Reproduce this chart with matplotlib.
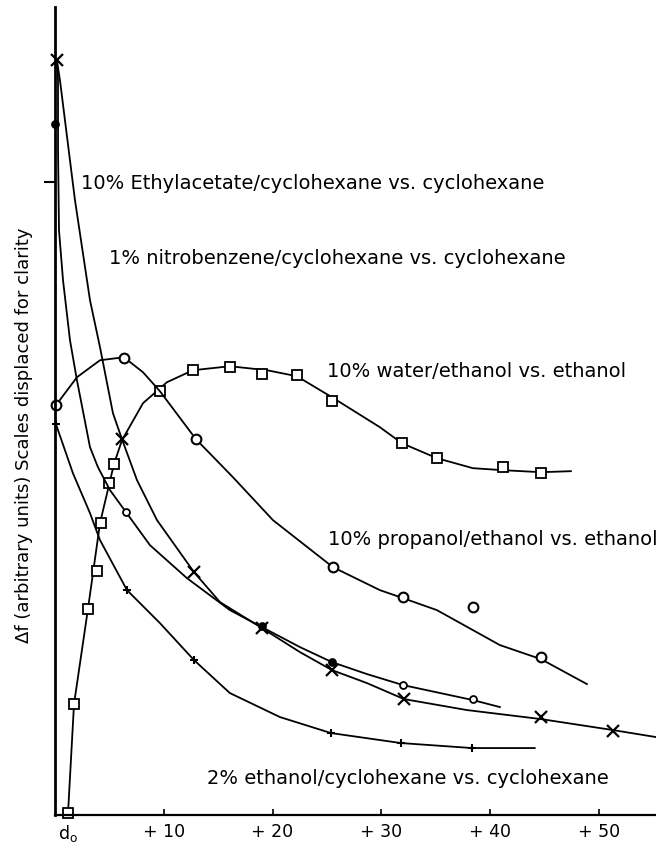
import numpy as np
import matplotlib.pyplot as plt

# distance from d_o (x) and displaced signal (y)
# 10% water/ethanol vs. ethanol (squares)
water_x = [1.19, 1.75, 3.03, 3.86, 4.23, 4.96, 5.42, 9.65, 12.68, 16.08, 19.03, 22.24, 25.46, 31.89, 35.11, 41.18, 44.67]
water_y = [0.2, 11.1, 20.6, 24.4, 29.2, 33.2, 35.1, 42.4, 44.5, 44.8, 44.1, 44.0, 41.4, 37.2, 35.7, 34.8, 34.2]
water_cx = [1.19, 1.75, 3.03, 4.14, 5.42, 6.16, 8.09, 10.29, 12.68, 16.08, 19.49, 22.24, 25.46, 29.87, 31.89, 35.11, 38.42, 41.18, 44.67, 47.43]
water_cy = [0.0, 11.1, 20.6, 29.2, 35.1, 37.5, 41.2, 43.3, 44.5, 44.9, 44.5, 43.9, 41.8, 38.8, 37.2, 35.7, 34.7, 34.5, 34.3, 34.4]

# 10% propanol/ethanol vs. ethanol (open circles)
prop_x = [0.09, 6.34, 12.96, 25.55, 31.99, 38.42, 44.67]
prop_y = [41.0, 45.7, 37.6, 24.8, 21.8, 20.8, 15.8]
prop_cx = [0.09, 2.02, 4.14, 6.34, 8.09, 9.65, 12.96, 16.36, 20.04, 25.55, 29.87, 31.99, 35.11, 38.42, 40.9, 44.67, 48.9]
prop_cy = [41.0, 43.8, 45.5, 45.8, 44.3, 42.4, 37.6, 33.8, 29.5, 24.8, 22.5, 21.7, 20.5, 18.5, 17.0, 15.6, 13.1]

# 10% Ethylacetate/cyclohexane vs. cyclohexane (crosses)
ethyl_x = [0.18, 6.16, 12.78, 19.03, 25.46, 32.08, 44.67, 51.29]
ethyl_y = [75.5, 37.6, 24.3, 18.7, 14.5, 11.6, 9.8, 8.4]
ethyl_cx = [0.18, 0.46, 1.84, 3.22, 4.14, 5.33, 6.16, 7.54, 9.38, 12.78, 15.17, 19.03, 22.52, 25.46, 28.68, 32.08, 37.87, 44.67, 51.29, 55.24]
ethyl_cy = [75.5, 73.5, 61.5, 51.5, 46.8, 40.2, 37.6, 33.5, 29.5, 24.3, 21.3, 18.7, 16.3, 14.5, 13.2, 11.6, 10.5, 9.6, 8.5, 7.8]

# 1% nitrobenzene/cyclohexane vs. cyclohexane (small dots)
nitro_x = [0.0, 6.53, 19.03, 25.46, 31.99, 38.42]
nitro_y = [69.1, 30.3, 18.9, 15.3, 13.0, 11.6]
nitro_filled = [True, False, True, True, False, False]
nitro_cx = [0.2, 0.28, 0.28, 0.37, 0.74, 1.38, 2.02, 3.22, 3.95, 5.06, 6.53, 8.73, 12.13, 16.08, 19.03, 22.52, 25.46, 28.68, 31.99, 38.42, 40.9]
nitro_cy = [75.0, 73.5, 66.5, 58.5, 53.5, 47.5, 43.5, 36.8, 34.8, 32.5, 30.3, 27.0, 23.7, 20.5, 18.8, 16.8, 15.3, 14.1, 13.0, 11.5, 10.8]

# 2% ethanol/cyclohexane vs. cyclohexane (small ticks)
eth2_x = [0.09, 6.62, 12.78, 25.37, 31.8, 38.33]
eth2_y = [39.1, 22.5, 15.5, 8.2, 7.2, 6.7]
eth2_cx = [0.09, 1.65, 3.22, 4.14, 6.62, 9.65, 12.78, 16.08, 20.68, 25.37, 31.8, 38.33, 44.1]
eth2_cy = [39.1, 34.2, 30.2, 27.5, 22.5, 19.2, 15.5, 12.2, 9.8, 8.2, 7.2, 6.7, 6.7]

xtick_pos = [1.2, 10, 20, 30, 40, 50]
xtick_lab = [r'd$_\mathrm{o}$', '+ 10', '+ 20', '+ 30', '+ 40', '+ 50']

fig = plt.figure(figsize=(6.56, 8.43), dpi=100)
ax = fig.add_axes([0.0838, 0.0332, 0.916, 0.958])

lw = 1.3
ax.plot(water_cx, water_cy, color='black', lw=lw)
ax.plot(water_x, water_y, 's', ms=7, mfc='white', mec='black', mew=1.3, clip_on=False)

ax.plot(prop_cx, prop_cy, color='black', lw=lw)
ax.plot(prop_x, prop_y, 'o', ms=7, mfc='white', mec='black', mew=1.5, clip_on=False)

ax.plot(ethyl_cx, ethyl_cy, color='black', lw=lw, clip_on=False)
ax.plot(ethyl_x, ethyl_y, 'x', ms=8, mec='black', mew=1.6, clip_on=False)

ax.plot(nitro_cx, nitro_cy, color='black', lw=lw)
for xx, yy, f in zip(nitro_x, nitro_y, nitro_filled):
    ax.plot(xx, yy, 'o', ms=5, mfc='black' if f else 'white', mec='black', mew=1.3, clip_on=False)

ax.plot(eth2_cx, eth2_cy, color='black', lw=lw)
ax.plot(eth2_x, eth2_y, '+', ms=6, mec='black', mew=1.5, clip_on=False)

ax.set_xlim(0, 55.24)
ax.set_ylim(0, 80.8)
ax.spines['top'].set_visible(False)
ax.spines['right'].set_visible(False)
ax.spines['left'].set_linewidth(2)
ax.spines['bottom'].set_linewidth(1.6)

ax.set_xticks(xtick_pos)
ax.set_xticklabels(xtick_lab, fontsize=12.5)
ax.tick_params(axis='x', direction='in', length=4, width=1.2, pad=6)
ax.set_yticks([63.3])
ax.set_yticklabels([''])
ax.tick_params(axis='y', direction='out', length=8, width=1.5)

ax.set_ylabel('Δf (arbitrary units) Scales displaced for clarity', fontsize=13)
ax.yaxis.set_label_coords(-0.037, 0.47)

fs = 14
ax.text(2.4, 63.2, '10% Ethylacetate/cyclohexane vs. cyclohexane', fontsize=fs, va='center')
ax.text(5.0, 55.7, '1% nitrobenzene/cyclohexane vs. cyclohexane', fontsize=fs, va='center')
ax.text(25.0, 44.4, '10% water/ethanol vs. ethanol', fontsize=fs, va='center')
ax.text(25.1, 27.6, '10% propanol/ethanol vs. ethanol', fontsize=fs, va='center')
ax.text(14.0, 3.7, '2% ethanol/cyclohexane vs. cyclohexane', fontsize=fs, va='center')

plt.savefig('out.png')
